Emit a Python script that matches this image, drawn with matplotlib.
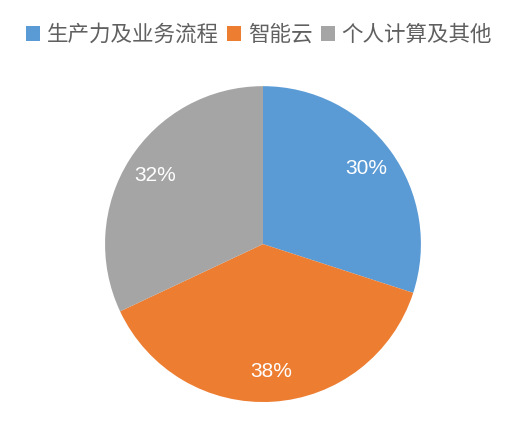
import matplotlib
matplotlib.use("Agg")
import matplotlib.pyplot as plt
from matplotlib.patches import Patch

plt.rcParams['font.family'] = ['Noto Sans CJK SC', 'DejaVu Sans']

categories = ["生产力及业务流程", "智能云", "个人计算及其他"]
shares = [30, 38, 32]
colors = ["#5B9BD5", "#ED7D31", "#A5A5A5"]

fig = plt.figure(figsize=(5.18, 4.28), dpi=100)
ax = fig.add_axes([0.2027, 0.0607, 0.61, 0.738])

wedges, texts, autotexts = ax.pie(
    shares, colors=colors, startangle=90, counterclock=False,
    autopct="%d%%", pctdistance=0.81, radius=1.0,
    wedgeprops=dict(linewidth=0),
    textprops=dict(color="white", fontsize=15, family="Liberation Sans"),
)
ax.set_xlim(-1, 1)
ax.set_ylim(-1, 1)
ax.set_aspect("equal")

handles = [Patch(facecolor=c, edgecolor="none") for c in colors]
fig.legend(handles, categories, loc="center", bbox_to_anchor=(0.5, 0.918),
           ncol=3, frameon=False, fontsize=15.5, handlelength=0.65, handleheight=0.65,
           handletextpad=0.3, columnspacing=0.4, labelcolor="#606060")

fig.savefig("out.png", dpi=100, facecolor="white")
